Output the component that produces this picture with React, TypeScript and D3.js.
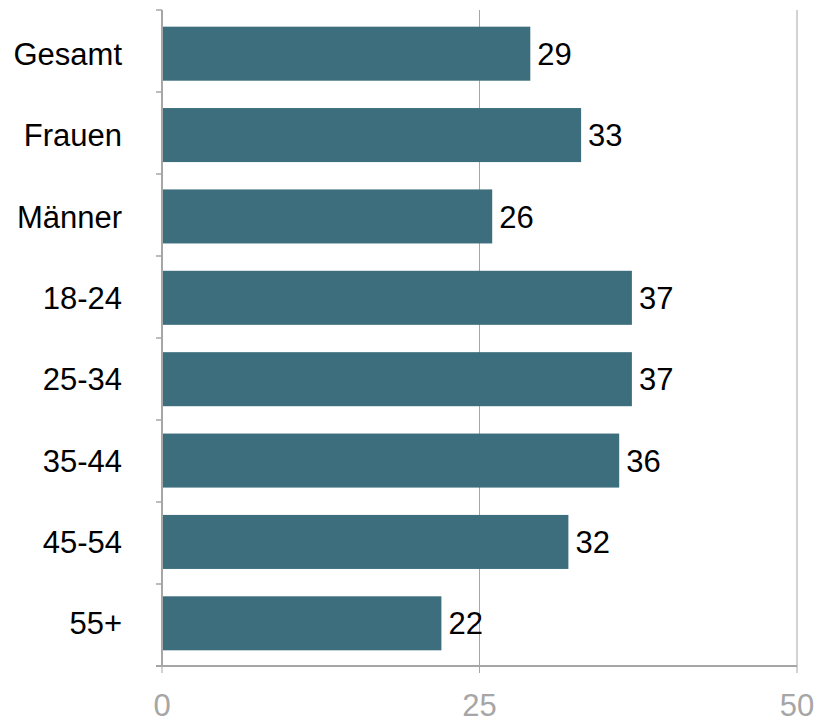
import { useEffect, useRef } from 'react';
import * as d3 from 'd3';

const categories = ['Gesamt', 'Frauen', 'Männer', '18-24', '25-34', '35-44', '45-54', '55+'];
const values = [29, 33, 26, 37, 37, 36, 32, 22];
const xTicks = [0, 25, 50];

const BAR = '#3d6e7d';
const AXIS = '#a6a6a6';
const FONT = 'Liberation Sans, Arial, sans-serif';

export default function App() {
  const svgRef = useRef<SVGSVGElement>(null);

  useEffect(() => {
    if (!svgRef.current) return;
    const svg = d3.select(svgRef.current);
    svg.selectAll('*').remove();

    const left = 162, right = 797, top = 10, bottom = 666;

    const x = d3.scaleLinear().domain([0, 50]).range([left, right]);
    // band scale for tick boundaries, and one for bars (slightly inset like the original)
    const yAxis = d3.scaleBand<string>().domain(categories).range([top, bottom]);
    const y = d3.scaleBand<string>().domain(categories).range([13, 664]).paddingInner(0.336).paddingOuter(0.168);

    // vertical gridlines
    svg.append('g')
      .selectAll('line')
      .data(xTicks.filter(t => t > 0))
      .join('line')
      .attr('x1', d => x(d)).attr('x2', d => x(d))
      .attr('y1', top).attr('y2', bottom)
      .attr('stroke', AXIS).attr('stroke-width', 1);

    // bars
    svg.append('g')
      .selectAll('rect')
      .data(categories)
      .join('rect')
      .attr('x', x(0) + 1)
      .attr('y', d => y(d)!)
      .attr('width', (d, i) => x(values[i]) - x(0) - 1)
      .attr('height', y.bandwidth())
      .attr('fill', BAR);

    // value labels
    svg.append('g')
      .selectAll('text')
      .data(categories)
      .join('text')
      .attr('x', (d, i) => x(values[i]) + 7)
      .attr('y', d => y(d)! + y.bandwidth() / 2)
      .attr('dy', '0.36em')
      .attr('font-family', FONT)
      .attr('font-size', 31)
      .attr('fill', '#000')
      .text((d, i) => values[i]);

    // category labels
    svg.append('g')
      .selectAll('text')
      .data(categories)
      .join('text')
      .attr('x', 122)
      .attr('y', d => y(d)! + y.bandwidth() / 2)
      .attr('dy', '0.36em')
      .attr('text-anchor', 'end')
      .attr('font-family', FONT)
      .attr('font-size', 31)
      .attr('fill', '#000')
      .text(d => d);

    // left axis line + ticks at band boundaries
    const boundaries = [...categories.map(c => yAxis(c)!), bottom];
    svg.append('line')
      .attr('x1', left).attr('x2', left)
      .attr('y1', top).attr('y2', bottom)
      .attr('stroke', AXIS).attr('stroke-width', 2);
    svg.append('g')
      .selectAll('line')
      .data(boundaries)
      .join('line')
      .attr('x1', left - 6).attr('x2', left)
      .attr('y1', d => d).attr('y2', d => d)
      .attr('stroke', AXIS).attr('stroke-width', 1.5);

    // bottom axis
    svg.append('line')
      .attr('x1', left - 6).attr('x2', right)
      .attr('y1', bottom).attr('y2', bottom)
      .attr('stroke', AXIS).attr('stroke-width', 2);
    svg.append('g')
      .selectAll('line')
      .data(xTicks)
      .join('line')
      .attr('x1', d => x(d)).attr('x2', d => x(d))
      .attr('y1', bottom).attr('y2', bottom + 7)
      .attr('stroke', AXIS).attr('stroke-width', 1);
    svg.append('g')
      .selectAll('text')
      .data(xTicks)
      .join('text')
      .attr('x', d => x(d))
      .attr('y', 716)
      .attr('text-anchor', 'middle')
      .attr('font-family', FONT)
      .attr('font-size', 31)
      .attr('fill', AXIS)
      .text(d => d);
  }, []);

  return (
    <svg
      ref={svgRef}
      width={815}
      height={718}
      style={{ position: 'absolute', left: 0, top: 0, background: '#fff' }}
    />
  );
}
